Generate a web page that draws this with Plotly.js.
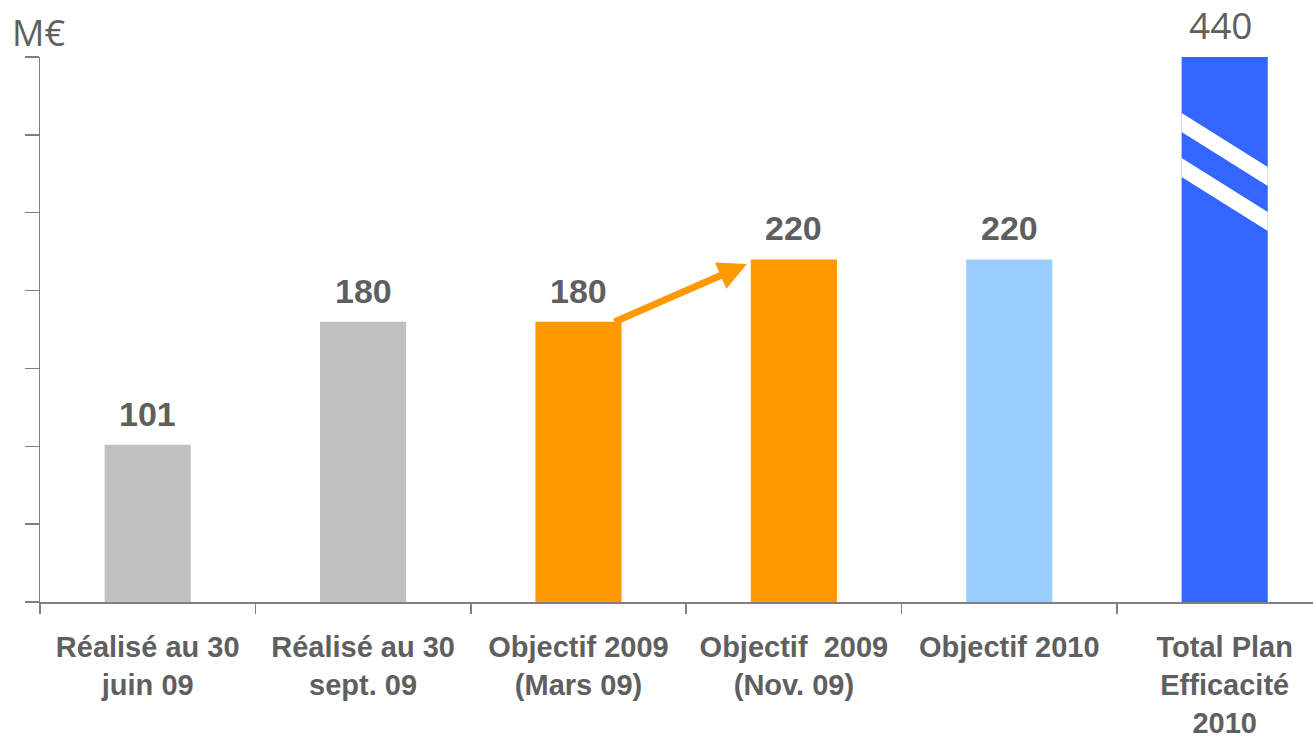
<!DOCTYPE html>
<html>
<head>
<meta charset="utf-8">
<script src="https://cdn.plot.ly/plotly-3.0.1.min.js"></script>
<style>html,body{margin:0;padding:0;background:#fff;overflow:hidden}</style>
</head>
<body>
<div id="chart" style="width:1313px;height:738px"></div>
<script>
// ---- data ----
const categories = [
  "Réalisé au 30<br>juin 09",
  "Réalisé au 30<br>sept. 09",
  "Objectif 2009<br>(Mars 09)",
  "Objectif  2009<br>(Nov. 09)",
  "Objectif 2010",
  "Total Plan<br>Efficacité<br>2010"
];
const values = [101, 180, 180, 220, 220, 440];
const barColors = ["#c0c0c0", "#c0c0c0", "#ff9900", "#ff9900", "#99ccff", "#3366ff"];
const unitLabel = "M€";
const axisMax = 350; // broken axis: bars above this are cut

const textGray = "#5f5f5f";
const axisGray = "#808080";

const trace = {
  type: "bar",
  x: categories,
  y: values,
  marker: {color: barColors, line: {width: 0}},
  width: 0.4,
  textposition: "none",
  hoverinfo: "none"
};

const annotations = values.map((v, i) => {
  const broken = v > axisMax;
  return {
    xref: "x", yref: "y",
    x: categories[i], y: Math.min(v, axisMax),
    text: String(v),
    showarrow: false,
    xanchor: "center", yanchor: "bottom",
    yshift: broken ? 5 : 10,
    xshift: broken ? -4 : 0,
    font: broken
      ? {family: "Open Sans, DejaVu Sans, sans-serif", size: 37, color: textGray}
      : {family: "Liberation Sans, Arial, sans-serif", size: 34, color: textGray, weight: "bold"}
  };
});

// unit label
annotations.push({
  xref: "paper", yref: "paper", x: 0, y: 1,
  xanchor: "left", yanchor: "bottom", xshift: -30, yshift: -2,
  text: unitLabel, showarrow: false,
  font: {family: "Open Sans, DejaVu Sans, sans-serif", size: 36, color: textGray}
});

// orange arrow from bar 3 to bar 4
annotations.push({
  xref: "x", yref: "y", axref: "x", ayref: "y",
  x: 2.782, y: 217, ax: 2.16, ay: 179.5,
  text: "", showarrow: true,
  arrowhead: 2, arrowsize: 0.82, arrowwidth: 7, arrowcolor: "#ff9900",
  standoff: 0, startstandoff: 0
});

// axis-break stripes across the broken bar
const breakIdx = values.findIndex(v => v > axisMax);
const bx0 = breakIdx - 0.2, bx1 = breakIdx + 0.2;
function stripe(yl0, yr0, yl1, yr1) {
  return {
    type: "path", xref: "x", yref: "y", layer: "above",
    path: `M${bx0},${yl0} L${bx1},${yr0} L${bx1},${yr1} L${bx0},${yl1} Z`,
    fillcolor: "#ffffff", line: {width: 0}
  };
}
const shapes = breakIdx >= 0 ? [
  stripe(314, 279.4, 301.9, 267.2),
  stripe(285.2, 250.5, 273, 238.3)
] : [];

const layout = {
  width: 1313, height: 738,
  margin: {l: 40, r: 0, t: 57, b: 136},
  paper_bgcolor: "#ffffff", plot_bgcolor: "#ffffff",
  showlegend: false,
  bargap: 0.6,
  xaxis: {
    type: "category",
    range: [-0.5, 5.41],
    showline: true, linecolor: axisGray, linewidth: 1.5,
    ticks: "outside", tickson: "boundaries", ticklen: 10, tickcolor: axisGray, tickwidth: 1.5,
    ticklabelstandoff: 19,
    showgrid: false, zeroline: false,
    tickfont: {family: "Liberation Sans, Arial, sans-serif", size: 29, color: textGray, weight: "bold"},
    fixedrange: true
  },
  yaxis: {
    range: [0, axisMax], dtick: 50, tick0: 0,
    showline: true, linecolor: axisGray, linewidth: 1.5,
    ticks: "outside", ticklen: 14, tickcolor: axisGray, tickwidth: 1.5,
    showticklabels: false, showgrid: false, zeroline: false,
    fixedrange: true
  },
  annotations: annotations,
  shapes: shapes
};

Plotly.newPlot("chart", [trace], layout, {displayModeBar: false, staticPlot: true});
</script>
</body>
</html>
